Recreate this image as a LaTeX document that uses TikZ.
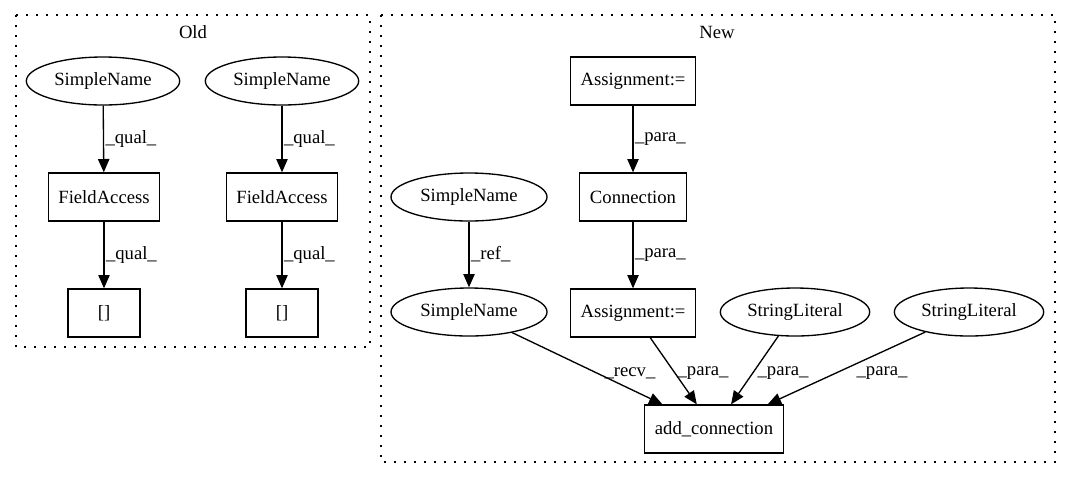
\documentclass[tikz,border=0pt]{standalone}
\usepackage{fontspec}
\setmainfont{Liberation Serif}
\usepackage{tikz}
\usetikzlibrary{arrows.meta,shapes.geometric}

\tikzset{
  box/.style={draw, rectangle, line width=1pt, minimum height=36pt, inner sep=0pt},
  oval/.style={draw, ellipse, line width=1pt, minimum height=36pt, inner sep=0pt},
  edge/.style={line width=1pt, -{Triangle[length=10pt,width=8.5pt]}},
  lbl/.style={inner sep=1pt},
  cluster/.style={line width=1pt, dash pattern=on 1.2pt off 6.3pt}
}

\begin{document}
\begin{tikzpicture}[x=0.75pt, y=-0.75pt, font=\fontsize{14pt}{16pt}\selectfont]
  \useasboundingbox (0,0) rectangle (1069,480);
  % clusters
  \draw[cluster] (16,15) rectangle (370,347);
  \draw[cluster] (381,15) rectangle (1055,462);
  \node (old) at (193,32) {Old};
  \node (new) at (717,32) {New};
  % old graph
  \node[oval, minimum width=115pt] (sn1) at (103,81) {SimpleName};
  \node[oval, minimum width=115pt] (sn2) at (282,81) {SimpleName};
  \node[box, minimum width=83pt] (fa1) at (104,197) {FieldAccess};
  \node[box, minimum width=83pt] (fa2) at (282,197) {FieldAccess};
  \node[box, minimum width=54pt] (br1) at (104,313) {[]};
  \node[box, minimum width=54pt] (br2) at (282,313) {[]};
  \draw[edge] (sn1) -- (fa1) node[lbl, midway, right] {\_qual\_};
  \draw[edge] (sn2) -- (fa2) node[lbl, midway, right] {\_qual\_};
  \draw[edge] (fa1) -- (br1) node[lbl, midway, right] {\_qual\_};
  \draw[edge] (fa2) -- (br2) node[lbl, midway, right] {\_qual\_};
  % new graph
  \node[box, minimum width=94pt] (as1) at (633,81) {Assignment:=};
  \node[box, minimum width=80pt] (conn) at (633,197) {Connection};
  \node[oval, minimum width=117pt] (sn3) at (469,197) {SimpleName};
  \node[oval, minimum width=117pt] (sn4) at (469,312) {SimpleName};
  \node[box, minimum width=94pt] (as2) at (633,313) {Assignment:=};
  \node[oval, minimum width=112pt] (sl1) at (795,312) {StringLiteral};
  \node[oval, minimum width=112pt] (sl2) at (969,312) {StringLiteral};
  \node[box, minimum width=104pt] (add) at (714,429) {add\_connection};
  \draw[edge] (as1) -- (conn) node[lbl, midway, right] {\_para\_};
  \draw[edge] (conn) -- (as2) node[lbl, midway, right] {\_para\_};
  \draw[edge] (sn3) -- (sn4) node[lbl, midway, right] {\_ref\_};
  \draw[edge] (sn4) -- (add) node[lbl] at (630,373) {\_recv\_};
  \draw[edge] (as2) -- (add) node[lbl] at (703,373) {\_para\_};
  \draw[edge] (sl1) -- (add) node[lbl] at (783,373) {\_para\_};
  \draw[edge] (sl2) -- (add) node[lbl] at (882,373) {\_para\_};
\end{tikzpicture}
\end{document}
